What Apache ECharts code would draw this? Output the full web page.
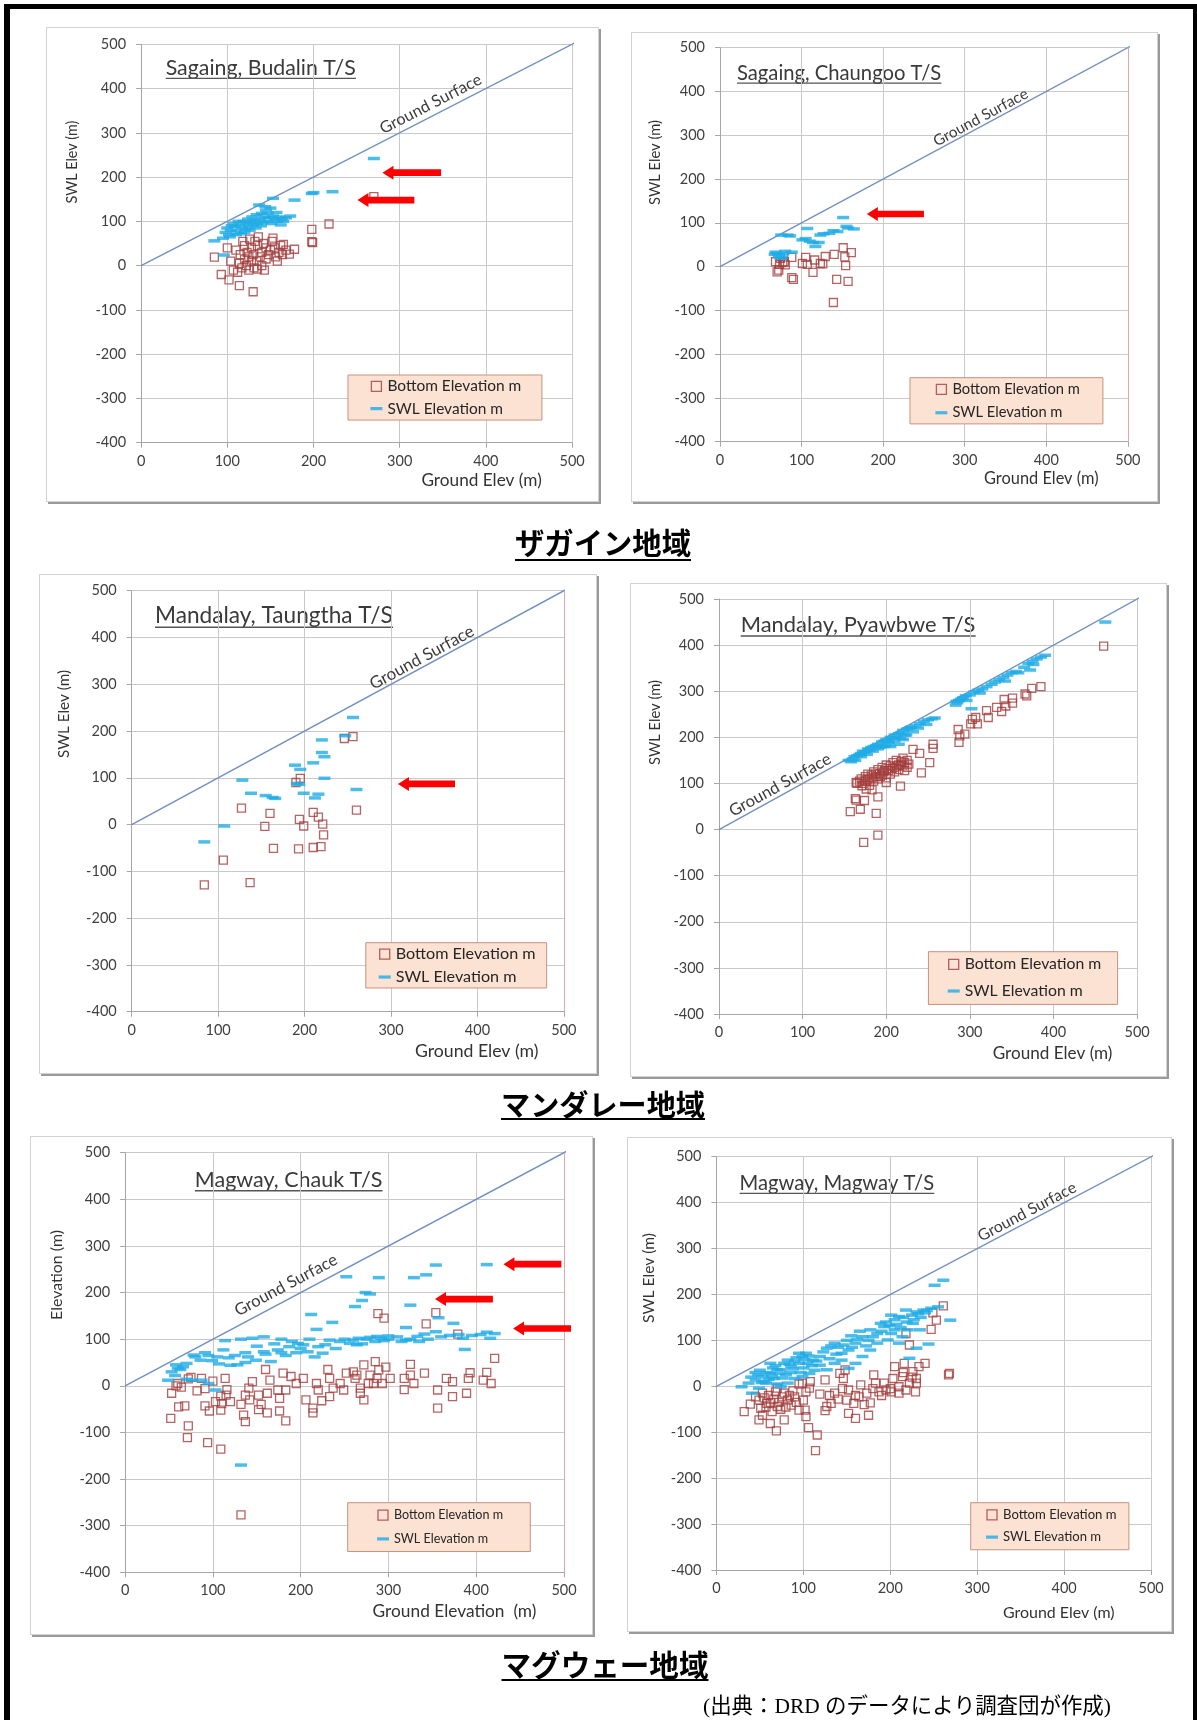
<!DOCTYPE html>
<html><head><meta charset="utf-8">
<script src="https://cdn.jsdelivr.net/npm/echarts@6/dist/echarts.min.js"></script>
<style>
html,body{margin:0;padding:0;background:#fff;}
#wrap{position:relative;width:1197px;height:1720px;overflow:hidden;background:#fff;}
.box{position:absolute;background:#fff;border:1px solid #d2d2d2;box-shadow:2px 2px 0 #9a9a9a;box-sizing:border-box;}
.bar{position:absolute;background:#000;}
#chart{position:absolute;left:0;top:0;width:1197px;height:1720px;}
</style></head><body>
<div id="wrap"><div id="chart"></div></div>
<script>
// ---------------- DATA (ground elevation, elevation) ----------------
const budalinSWL = [[85,56],[96,24],[95,62],[98,75],[100,85],[102,70],[104,80],[105,90],[107,95],[109,88],[111,78],[113,100],[115,92],[117,85],[119,100],[120,75],[122,95],[124,105],[125,88],[127,98],[129,110],[130,92],[132,102],[134,115],[135,95],[137,137],[138,105],[140,118],[141,98],[143,110],[144,133],[145,125],[146,100],[148,108],[150,130],[151,95],[153,152],[153,112],[155,105],[158,100],[160,110],[162,92],[165,100],[168,108],[173,112],[178,148],[198,163],[200,165],[222,167],[270,242],[103,65],[110,70],[116,72],[121,82],[126,80],[133,85],[139,90],[147,118],[157,120],[163,105]];
const budalinBottom = [[85,19],[93,-20],[102,-32],[114,-45],[130,-59],[100,40],[104,10],[107,-10],[110,35],[112,-15],[114,5],[115,25],[117,-5],[118,55],[120,15],[120,45],[122,0],[123,30],[125,20],[125,-10],[126,60],[128,10],[128,40],[130,25],[131,-5],[132,55],[134,10],[135,45],[135,-8],[136,65],[138,20],[140,30],[140,0],[142,50],[143,-10],[145,15],[145,40],[148,25],[150,35],[152,55],[153,62],[155,40],[156,20],[158,10],[160,30],[162,45],[164,25],[165,48],[168,35],[172,26],[178,37],[198,82],[198,54],[199,52],[218,94],[270,156]];
const budalinArrows = [[280,348,210],[251,317,148]];

const chaungooSWL = [[67,28],[68,33],[70,30],[72,25],[74,19],[75,72],[76,22],[78,30],[80,35],[83,72],[86,70],[88,33],[101,61],[105,64],[107,87],[110,58],[114,55],[117,46],[121,55],[123,72],[127,75],[134,76],[139,82],[144,80],[151,112],[155,92],[157,88],[164,86]];
const chaungooBottom = [[68,11],[70,-12],[72,-8],[73,5],[74,19],[77,9],[79,11],[80,4],[88,21],[88,-25],[90,-29],[101,7],[105,21],[107,5],[114,-13],[116,15],[123,7],[126,6],[129,23],[139,-82],[140,28],[143,-29],[151,43],[153,22],[154,2],[157,-34],[161,32]];
const chaungooArrows = [[180,250,120]];

const taungthaSWL = [[84,-37],[107,-3],[128,95],[138,67],[155,62],[163,58],[166,56],[189,127],[191,88],[194,86],[195,118],[199,67],[210,132],[212,57],[216,65],[220,181],[220,154],[223,145],[223,99],[247,190],[256,229],[260,75]];
const taungthaBottom = [[84,-129],[106,-76],[127,35],[137,-124],[154,-4],[160,24],[164,-51],[190,90],[193,-52],[194,11],[195,99],[199,-3],[210,26],[210,-49],[216,16],[219,-47],[221,1],[222,-22],[246,184],[256,188],[260,31]];
const taungthaArrows = [[308,374,87]];

const pyawbweSWL = [[155,150],[158,147],[160,153],[162,158],[165,160],[168,163],[170,165],[172,170],[175,168],[178,175],[180,172],[182,178],[185,180],[188,182],[190,185],[192,178],[195,190],[198,192],[200,195],[200,182],[202,188],[205,200],[205,180],[208,198],[210,205],[212,200],[215,208],[215,185],[218,210],[220,215],[220,195],[222,205],[225,218],[228,220],[230,222],[235,225],[240,230],[245,235],[250,238],[255,240],[258,242],[283,270],[285,275],[287,280],[290,283],[292,286],[295,290],[300,292],[302,262],[305,298],[310,302],[315,305],[320,310],[330,320],[335,325],[340,330],[345,335],[350,340],[355,343],[365,352],[370,360],[372,346],[375,365],[380,370],[385,374],[390,378],[462,450],[163,150],[170,158],[177,163],[184,170],[190,175],[197,180],[203,190],[210,192],[217,198],[224,205],[232,212],[238,220],[248,228],[284,278],[296,280],[312,296],[326,315],[342,322],[358,340],[376,358]];
const pyawbweBottom = [[157,39],[163,67],[164,64],[164,102],[169,44],[173,-28],[174,63],[180,96],[183,86],[188,35],[190,71],[190,-12],[165,100],[168,105],[170,110],[172,100],[175,115],[175,105],[178,120],[180,110],[182,118],[185,125],[185,105],[188,115],[190,130],[190,110],[192,122],[195,135],[195,118],[198,128],[200,140],[200,112],[200,102],[202,132],[205,138],[205,120],[208,145],[210,135],[210,125],[212,150],[215,140],[215,130],[217,94],[218,148],[220,155],[220,138],[222,145],[225,150],[225,135],[232,174],[240,165],[242,123],[252,145],[256,176],[256,185],[286,217],[287,189],[288,203],[294,207],[301,229],[303,239],[307,243],[309,229],[320,258],[322,243],[332,265],[338,256],[341,282],[343,268],[351,285],[351,274],[366,294],[368,290],[374,306],[385,310],[460,398],[177,108],[183,112],[187,120],[193,115],[197,125],[203,128],[207,132],[213,138],[218,142],[222,128],[227,142],[171,95],[176,88]];
const pyawbweArrows = [];

const chaukSWL = [[49,12],[53,30],[57,22],[60,38],[66,41],[70,48],[70,14],[76,12],[78,66],[86,55],[87,12],[91,71],[95,5],[99,54],[103,-9],[107,47],[112,77],[114,97],[120,44],[132,100],[132,-170],[137,71],[137,50],[145,102],[149,55],[158,105],[158,73],[166,52],[174,77],[178,100],[178,71],[187,84],[195,71],[197,91],[203,88],[208,73],[212,153],[216,62],[218,121],[220,84],[233,98],[236,136],[245,95],[252,234],[256,91],[262,170],[264,88],[266,102],[270,183],[274,200],[279,197],[279,104],[287,106],[289,232],[295,97],[300,107],[320,125],[320,98],[325,173],[329,232],[333,106],[341,111],[343,238],[354,259],[354,116],[357,146],[374,134],[385,102],[387,78],[412,260],[412,115],[416,102],[421,112],[105,62],[125,65],[150,85],[170,90],[190,95],[210,100],[225,70],[240,80],[250,100],[270,90],[285,95],[300,100],[310,105],[315,95],[325,100],[335,95],[345,100],[360,105],[370,108],[380,110],[395,108],[405,110],[58,45],[63,35],[80,62],[95,65],[118,60],[128,45],[140,62],[160,68],[183,65],[200,80],[228,88],[260,98],[275,100],[292,102]];
const chaukBottom = [[53,-16],[58,0],[61,-45],[68,-43],[82,-11],[87,16],[91,-6],[91,-43],[96,-54],[103,-34],[109,-52],[109,-22],[114,16],[116,-8],[120,-34],[132,-40],[135,-63],[137,-77],[137,-20],[141,-5],[145,9],[152,-51],[152,-20],[160,35],[162,-16],[162,-58],[165,12],[174,-9],[176,-27],[176,-54],[180,27],[183,-75],[183,-9],[189,20],[195,5],[203,16],[206,-30],[214,-58],[214,-48],[218,5],[220,-9],[224,-32],[231,35],[233,16],[233,-23],[237,-5],[245,5],[249,-9],[252,27],[260,30],[262,16],[264,23],[268,-5],[268,-16],[272,-30],[277,5],[279,23],[283,5],[287,16],[289,34],[293,5],[302,16],[318,16],[318,-8],[325,23],[329,5],[341,27],[366,16],[373,9],[391,16],[393,28],[408,12],[417,5],[421,59],[412,29],[325,46],[285,52],[272,45],[297,40],[356,-48],[373,-23],[389,-16],[356,-9],[288,155],[295,145],[343,133],[354,157],[379,111],[52,-70],[72,-86],[71,-111],[94,-122],[109,-136],[132,-277],[60,5],[64,-3],[72,15],[75,18],[100,10],[110,-38],[115,-20],[142,-30],[155,-40]];
const chaukArrows = [[431,497,261],[353,419,186],[442,508,123]];

const magwaySWL = [[29,-1],[37,7],[41,-15],[45,14],[49,-4],[53,21],[57,7],[62,28],[62,50],[66,17],[70,36],[74,-1],[74,36],[78,50],[82,7],[82,57],[86,43],[90,17],[95,50],[95,72],[99,21],[99,65],[103,72],[107,28],[111,57],[119,65],[119,46],[127,83],[127,36],[136,94],[136,50],[144,72],[144,57],[152,79],[152,39],[160,94],[160,50],[168,108],[168,65],[177,123],[177,79],[185,94],[189,137],[193,130],[197,101],[201,155],[201,115],[205,123],[210,152],[210,94],[214,108],[218,166],[220,123],[222,61],[226,137],[230,162],[230,83],[234,123],[238,166],[244,92],[247,170],[251,220],[255,173],[261,231],[269,144],[40,20],[45,30],[50,35],[55,10],[60,15],[65,40],[70,5],[80,25],[85,30],[90,55],[100,40],[105,50],[110,45],[115,55],[130,60],[140,85],[150,100],[155,110],[165,120],[175,100],[185,115],[195,140],[205,145],[215,150],[225,155],[235,150],[240,160],[48,25],[52,8],[58,30],[64,22],[68,45],[72,28],[76,18],[84,48],[88,38],[92,62],[97,30],[101,58],[106,66],[113,35],[123,75],[132,88],[138,70],[146,90],[156,85],[162,102],[172,88],[180,108],[190,120],[199,132],[207,135],[212,128],[219,140],[227,145],[232,158],[242,165]];
const magwayBottom = [[32,-55],[39,-39],[45,-23],[49,-73],[49,-30],[51,-48],[53,-63],[53,-15],[58,-37],[62,-81],[64,-55],[69,-97],[70,-44],[70,-4],[76,-23],[78,-73],[78,-15],[82,-30],[86,-41],[90,-23],[95,-52],[99,7],[102,-52],[103,-66],[103,-12],[106,-90],[107,-4],[114,-140],[116,-106],[119,-17],[125,-53],[125,14],[127,-44],[132,-37],[136,-15],[140,-28],[142,28],[146,17],[148,36],[152,-8],[152,-59],[158,-37],[160,-70],[164,-23],[166,3],[173,-15],[175,-63],[177,-36],[181,25],[183,7],[187,-12],[193,7],[195,-8],[201,-12],[203,17],[205,43],[210,-1],[214,21],[216,50],[218,-8],[222,7],[222,90],[218,115],[226,32],[229,-12],[230,17],[230,7],[233,43],[240,50],[247,124],[249,160],[253,144],[261,175],[267,25],[268,28],[55,-25],[57,-45],[60,-20],[62,-35],[66,-28],[68,-12],[72,-35],[74,-50],[80,-45],[84,-20],[88,-10],[92,-35],[95,5],[100,-30],[108,10],[130,-20],[145,-5],[150,-30],[160,-20],[170,-40],[180,-5],[190,-20],[200,-5],[210,-15],[215,30],[225,20]];
const magwayArrows = [];

const xTicks = [0,100,200,300,400,500];
const yTicks = [-400,-300,-200,-100,0,100,200,300,400,500];
const sectionTitles = ['ザガイン地域','マンダレー地域','マグウェー地域'];
const sourceText = '(出典：DRD のデータにより調査団が作成)';

// ---------------- LAYOUT ----------------
const FONT = "Lato, 'Noto Sans', 'DejaVu Sans', sans-serif";
const CJK = "'Noto Sans CJK JP', sans-serif";
const SRCFONT = "'Liberation Serif', 'Noto Sans CJK JP', serif";

const panels = [
 {title:'Sagaing, Budalin T/S', xName:'Ground Elev (m)', yName:'SWL Elev (m)', bottom:budalinBottom, swl:budalinSWL, arrows:budalinArrows, lineEnd:520, gsAt:[336,365], gsW:112, pink:false,
  grid:[141.1,44.3,431,398.4], box:[46,27,553,475], ttl:[165.7,67.7,190.3], xn:[541.8,480,120.4], yn:[72,162,83],
  lg:{left:348,top:375,w:194,h:46,textW:134,row1:386.7,row2:409.3,iconX:371.4}},
 {title:'Sagaing, Chaungoo T/S', xName:'Ground Elev (m)', yName:'SWL Elev (m)', bottom:chaungooBottom, swl:chaungooSWL, arrows:chaungooArrows, lineEnd:508, gsAt:[319.6,340.6], gsW:105, pink:true,
  grid:[720,47.7,407.9,394], box:[631,32,527,470], ttl:[737,73,204.4], xn:[1098.6,479,114.6], yn:[655.7,162.5,85],
  lg:{left:910,top:377.7,w:193,h:45.6,textW:127.5,row1:389.3,row2:412.3,iconX:936.4}},
 {title:'Mandalay, Taungtha T/S', xName:'Ground Elev (m)', yName:'SWL Elev (m)', bottom:taungthaBottom, swl:taungthaSWL, arrows:taungthaArrows, lineEnd:522, gsAt:[335.6,357], gsW:116, pink:true,
  grid:[131.7,590.7,432.2,421], box:[39,574,558,500], ttl:[155,616,238], xn:[538.5,1051,123.6], yn:[64,714,88],
  lg:{left:365.8,top:942.7,w:181,h:45.6,textW:140,row1:954.3,row2:977.3,iconX:379.7}},
 {title:'Mandalay, Pyawbwe T/S', xName:'Ground Elev (m)', yName:'SWL Elev (m)', bottom:pyawbweBottom, swl:pyawbweSWL, arrows:pyawbweArrows, lineEnd:521, gsAt:[73,96.6], gsW:113.7, pink:false,
  grid:[719,599,418.1,415], box:[630,583,537,494], ttl:[740.7,625,235], xn:[1112.5,1053.3,119.9], yn:[654.8,722.5,85],
  lg:{left:928.4,top:951.7,w:189.4,h:52.3,textW:136.8,row1:964.3,row2:990.7,iconX:948.7}},
 {title:'Magway, Chauk T/S', xName:'Ground Elevation  (m)', yName:'Elevation (m)', bottom:chaukBottom, swl:chaukSWL, arrows:chaukArrows, lineEnd:504, gsAt:[183.3,216], gsW:114, pink:true,
  grid:[125.1,1152.7,438.9,419.6], box:[30,1136,563,499], ttl:[194.8,1180,187.7], xn:[536.5,1611.7,164], yn:[57.3,1275,90],
  lg:{left:347.7,top:1502.7,w:182.6,h:48,textW:109,row1:1515,row2:1538.3,iconX:378}},
 {title:'Magway, Magway T/S', xName:'Ground Elev (m)', yName:'SWL Elev (m)', bottom:magwayBottom, swl:magwaySWL, arrows:magwayArrows, lineEnd:513, gsAt:[357.3,380], gsW:109, pink:false,
  grid:[716.4,1156.7,434.7,413.3], box:[627,1137,545,495], ttl:[739.6,1183.3,194.7], xn:[1114.6,1613.3,111.7], yn:[648.6,1278,90],
  lg:{left:970.7,top:1502.7,w:158.2,h:47.3,textW:113.6,row1:1515,row2:1537.3,iconX:987}}
];
const sections = [
 {text:sectionTitles[0], cx:603, cy:543, w:176, ul:560},
 {text:sectionTitles[1], cx:603, cy:1105, w:204, ul:1119},
 {text:sectionTitles[2], cx:605, cy:1665, w:207, ul:1680}
];

// ---------------- helpers ----------------
const _ctx = document.createElement('canvas').getContext('2d');
function tw(text, font){ _ctx.font = font; return _ctx.measureText(text).width; }
function fit(text, family, weight, target){ return 100*target/tw(text, weight+' 100px '+family); }

// frame + boxes (decoration)
const wrap = document.getElementById('wrap');
function addDiv(cls, l, t, w, h){ const d=document.createElement('div'); d.className=cls; Object.assign(d.style,{left:l+'px',top:t+'px',width:w+'px',height:h+'px'}); wrap.insertBefore(d, wrap.firstChild); }
panels.forEach(p=>addDiv('box', p.box[0], p.box[1], p.box[2], p.box[3]));
addDiv('bar',4,4,1193,5); addDiv('bar',4,4,6,1716); addDiv('bar',1193,4,4,1716);

const AXC = '#a6a6a6', GRIDC = '#c9c9c9', LABC = '#404040';
const grids=[], xAxes=[], yAxes=[], series=[], legends=[], graphics=[];

panels.forEach((p,i)=>{
  const [gl,gt,gw,gh] = p.grid;
  grids.push({left:gl, top:gt, width:gw, height:gh, containLabel:false, outerBoundsMode:'none'});
  const xfs = fit(p.xName, FONT, 'normal', p.xn[2]);
  const yfs = fit(p.yName, FONT, 'normal', p.yn[2]);
  const axisY = gt+gh;
  const xShift = (p.xn[0] - p.xn[2]/2) - (gl + gw/2);
  xAxes.push({type:'value', gridIndex:i, min:xTicks[0], max:xTicks[xTicks.length-1], interval:xTicks[1]-xTicks[0],
    axisLine:{show:true, onZero:false, lineStyle:{color:AXC}}, axisTick:{show:true, length:5, lineStyle:{color:AXC}},
    axisLabel:{fontSize:14.5, fontFamily:FONT, color:LABC, margin:11},
    splitLine:{show:true, lineStyle:{color:GRIDC}},
    name:p.xName, nameLocation:'middle', nameGap:(p.xn[1]-axisY),
    nameTextStyle:{fontSize:xfs, fontFamily:FONT, color:'#333', align:'center', verticalAlign:'middle', padding:[0,0,0,2*xShift]}});
  yAxes.push({type:'value', gridIndex:i, min:yTicks[0], max:yTicks[yTicks.length-1], interval:yTicks[1]-yTicks[0],
    axisLine:{show:true, onZero:false, lineStyle:{color:AXC}}, axisTick:{show:true, length:5, lineStyle:{color:AXC}},
    axisLabel:{fontSize:14.5, fontFamily:FONT, color:LABC, margin:15},
    splitLine:{show:true, lineStyle:{color:GRIDC}},
    name:p.yName, nameLocation:'middle', nameRotate:90, nameGap: gl - p.yn[0],
    nameTextStyle:{fontSize:yfs, fontFamily:FONT, color:'#333', align:'center', verticalAlign:'middle', padding:[0,0,0,2*((gt+gh/2)-p.yn[1])]}});

  const ang = Math.atan((gh/900)/(gw/500))*180/Math.PI;
  const gsfs = fit('Ground Surface', FONT, 'normal', p.gsW);
  series.push({type:'line', name:'Ground Surface', xAxisIndex:i, yAxisIndex:i, data:[[0,0],[p.lineEnd,p.lineEnd]],
    symbol:'none', clip:false, silent:true, z:3, lineStyle:{color:'#7190c0', width:1.4},
    markPoint:{silent:true, symbol:'circle', symbolSize:1, itemStyle:{color:'rgba(0,0,0,0)'},
      data:[{coord:p.gsAt, label:{show:true, position:'inside', formatter:'Ground Surface', rotate:ang, fontSize:gsfs, fontFamily:FONT, color:'#3c3c3c'}}]}});
  const bottomSeries = {type:'scatter', name:'Bottom Elevation m', xAxisIndex:i, yAxisIndex:i, data:p.bottom,
    symbol:'rect', symbolSize:8, z:4, itemStyle:{color:'rgba(0,0,0,0)', borderColor:'#a33c3c', borderWidth:1.3}};
  if (p.pink) bottomSeries.markLine = {silent:true, symbol:['none','none'], label:{show:false}, lineStyle:{color:'#e6a3aa', type:'solid', width:1}, data:[{xAxis:500}]};
  series.push(bottomSeries);
  series.push({type:'scatter', name:'SWL Elevation m', xAxisIndex:i, yAxisIndex:i, data:p.swl,
    symbol:'rect', symbolSize:[12,3.5], z:5, itemStyle:{color:'#1fabe6'}});
  if (p.arrows.length){
    series.push({type:'custom', name:'arrow', xAxisIndex:i, yAxisIndex:i, data:p.arrows, clip:false, silent:true, z:6,
      encode:{x:[0,1], y:2},
      renderItem:(params, api)=>{
        const tip = api.coord([api.value(0), api.value(2)]);
        const tail = api.coord([api.value(1), api.value(2)]);
        const bh=3.3, hh=7, hl=11, y=tip[1], x0=tip[0], x1=tail[0];
        return {type:'polygon', shape:{points:[[x0,y],[x0+hl,y-hh],[x0+hl,y-bh],[x1,y-bh],[x1,y+bh],[x0+hl,y+bh],[x0+hl,y+hh]]}, style:{fill:'#ff0000'}};
      }});
  }
  // legend
  const L = p.lg;
  const fs = fit('Bottom Elevation m', FONT, 'normal', L.textW);
  const ih = Math.max(10, fs);
  const itemGap = (L.row2-L.row1) - ih;
  const padTop = L.row1 - L.top - ih/2;
  const padBottom = Math.max(0, L.h - padTop - 2*ih - itemGap);
  const padLeft = L.iconX - L.left - 1;
  const padRight = Math.max(0, L.w - padLeft - (12+5+L.textW));
  legends.push({orient:'vertical', left:L.left, top:L.top, padding:[padTop,padRight,padBottom,padLeft], itemGap:itemGap,
    itemWidth:12, itemHeight:10, backgroundColor:'#fbe2d3', borderColor:'#c8917e', borderWidth:1, selectedMode:false,
    textStyle:{fontSize:fs, fontFamily:FONT, color:'#262626'},
    data:[{name:'Bottom Elevation m', icon:'path://M0,0H10V10H0Z', itemStyle:{color:'rgba(0,0,0,0)', borderColor:'#a33c3c', borderWidth:1.3}},
          {name:'SWL Elevation m', icon:'path://M0,0H12V3.2H0Z', itemStyle:{color:'#1fabe6', borderWidth:0}}]});
  // panel title
  const tfs = fit(p.title, FONT, 'normal', p.ttl[2]);
  graphics.push({type:'text', x:p.ttl[0], y:p.ttl[1], style:{text:p.title, font:'normal '+tfs+'px '+FONT, fill:'#3a3a3a', align:'left', verticalAlign:'middle', textAlign:'left', textVerticalAlign:'middle'}});
  const uy = p.ttl[1] + 0.5*tfs;
  graphics.push({type:'line', shape:{x1:p.ttl[0], y1:uy, x2:p.ttl[0]+p.ttl[2], y2:uy}, style:{stroke:'#555', lineWidth:1.4}});
});

sections.forEach(s=>{
  const fs = fit(s.text, CJK, 'bold', s.w);
  graphics.push({type:'text', x:s.cx, y:s.cy, style:{text:s.text, font:'bold '+fs+'px '+CJK, fill:'#000', align:'center', verticalAlign:'middle', textAlign:'center', textVerticalAlign:'middle'}});
  graphics.push({type:'line', shape:{x1:s.cx-s.w/2, y1:s.ul, x2:s.cx+s.w/2, y2:s.ul}, style:{stroke:'#000', lineWidth:2.2}});
});
const sfs = fit(sourceText, SRCFONT, 'normal', 408);
graphics.push({type:'text', x:703, y:1707, style:{text:sourceText, font:'normal '+sfs+'px '+SRCFONT, fill:'#000', align:'left', verticalAlign:'middle', textAlign:'left', textVerticalAlign:'middle'}});

const chart = echarts.init(document.getElementById('chart'), null, {renderer:'canvas'});
chart.setOption({animation:false, grid:grids, xAxis:xAxes, yAxis:yAxes, series:series, legend:legends, graphic:graphics});
</script>
</body></html>
